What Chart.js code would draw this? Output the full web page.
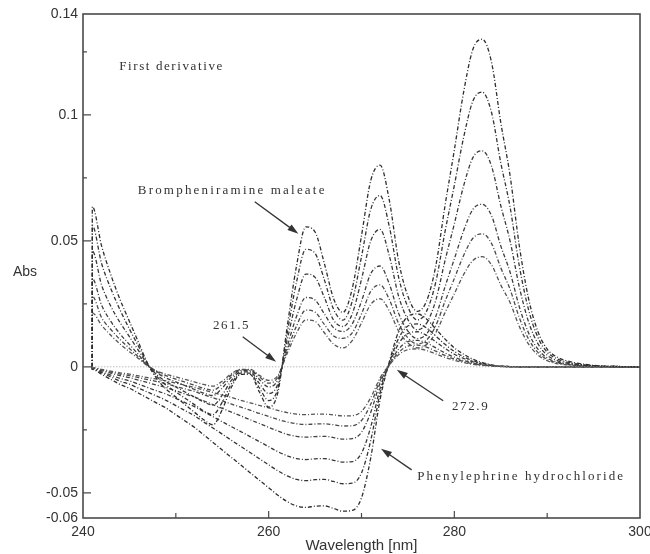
<!DOCTYPE html>
<html>
<head>
<meta charset="utf-8">
<script src="https://cdn.jsdelivr.net/npm/chart.js@4.4.1/dist/chart.umd.min.js"></script>
<style>
  html, body { margin: 0; padding: 0; background: #fff; }
  #grafico { display: block; }
</style>
</head>
<body>
<canvas id="grafico" width="650" height="554"></canvas>
<script>
// comprimentos de onda (nm) - o 241 repetido faz o salto vertical do inicio da varredura
const wavelengths = [
  241, 241, 242, 243, 244, 245, 246, 247, 248, 249,
  250, 251, 252, 253, 254, 255, 256, 257, 258, 259,
  260, 261, 262, 263, 264, 265, 266, 267, 268, 269,
  270, 271, 272, 273, 274, 275, 276, 277, 278, 279,
  280, 281, 282, 283, 284, 285, 286, 287, 288, 289,
  290, 291, 292, 294, 296, 298, 300
];

// Brompheniramine maleate - primeira derivada, da maior para a menor concentracao
const brm1 = [
  0, 0.0636, 0.048, 0.0365, 0.0266, 0.018, 0.0095, 0.001, -0.005, -0.009,
  -0.012, -0.015, -0.018, -0.021, -0.023, -0.017, -0.008, -0.003, -0.003, -0.010,
  -0.016, -0.010, 0.016, 0.040, 0.0555, 0.0535, 0.041, 0.027, 0.0216, 0.031,
  0.052, 0.074, 0.080, 0.066, 0.042, 0.028, 0.022, 0.026, 0.040, 0.064,
  0.086, 0.109, 0.126, 0.130, 0.121, 0.097, 0.076, 0.048, 0.027, 0.014,
  0.007, 0.004, 0.0025, 0.001, 0.0003, 0.0001, 0
];
const brm2 = [
  0, 0.056, 0.041, 0.031, 0.0225, 0.015, 0.008, 0.001, -0.004, -0.0075,
  -0.010, -0.0125, -0.015, -0.0175, -0.019, -0.014, -0.0067, -0.0025, -0.0025, -0.0084,
  -0.0134, -0.0084, 0.0134, 0.0336, 0.0466, 0.045, 0.0345, 0.0228, 0.0185, 0.026,
  0.0437, 0.0625, 0.068, 0.0556, 0.0355, 0.0237, 0.0186, 0.022, 0.0336, 0.0537,
  0.072, 0.091, 0.1055, 0.109, 0.101, 0.081, 0.0635, 0.040, 0.0226, 0.0117,
  0.0058, 0.0033, 0.002, 0.0008, 0.0002, 0.0001, 0
];
const brm3 = [
  0, 0.046, 0.0325, 0.024, 0.0175, 0.012, 0.0063, 0.0007, -0.0033, -0.006,
  -0.008, -0.010, -0.012, -0.0139, -0.0152, -0.0112, -0.0053, -0.002, -0.002, -0.0066,
  -0.0106, -0.0066, 0.0106, 0.0265, 0.0368, 0.0355, 0.0275, 0.0185, 0.016, 0.021,
  0.0347, 0.050, 0.0545, 0.044, 0.028, 0.0187, 0.0147, 0.0172, 0.0264, 0.0422,
  0.0567, 0.0718, 0.083, 0.0857, 0.0797, 0.064, 0.050, 0.0317, 0.0178, 0.0092,
  0.0046, 0.0026, 0.0016, 0.0006, 0.0002, 0.0001, 0
];
const brm4 = [
  0, 0.035, 0.0245, 0.018, 0.013, 0.0089, 0.0047, 0.0005, -0.0025, -0.0045,
  -0.006, -0.0075, -0.009, -0.0104, -0.0114, -0.0084, -0.004, -0.0015, -0.0015, -0.005,
  -0.008, -0.005, 0.008, 0.020, 0.0275, 0.0265, 0.021, 0.0155, 0.014, 0.017,
  0.026, 0.037, 0.040, 0.0328, 0.0212, 0.0142, 0.0112, 0.013, 0.020, 0.0318,
  0.0428, 0.054, 0.0625, 0.0645, 0.060, 0.048, 0.0376, 0.0238, 0.0134, 0.007,
  0.0035, 0.002, 0.0012, 0.0005, 0.0002, 0.0001, 0
];
const brm5 = [
  0, 0.028, 0.0195, 0.0148, 0.0108, 0.0073, 0.0038, 0.0004, -0.002, -0.0036,
  -0.0049, -0.0061, -0.0073, -0.0085, -0.0093, -0.0069, -0.0032, -0.0012, -0.0012, -0.004,
  -0.0065, -0.004, 0.0065, 0.0162, 0.0225, 0.0217, 0.0168, 0.0122, 0.0113, 0.0135,
  0.021, 0.030, 0.0325, 0.0267, 0.0172, 0.0115, 0.0091, 0.0106, 0.0163, 0.026,
  0.035, 0.0442, 0.051, 0.0528, 0.049, 0.0393, 0.0308, 0.0195, 0.011, 0.0057,
  0.0029, 0.0016, 0.001, 0.0004, 0.0001, 0, 0
];
const brm6 = [
  0, 0.0214, 0.0165, 0.0125, 0.009, 0.006, 0.0032, 0.0003, -0.0017, -0.003,
  -0.004, -0.005, -0.006, -0.007, -0.0077, -0.0057, -0.0027, -0.001, -0.001, -0.0034,
  -0.0054, -0.0034, 0.0054, 0.0134, 0.0186, 0.018, 0.0135, 0.009, 0.0075, 0.0104,
  0.0174, 0.0248, 0.027, 0.0222, 0.0142, 0.0095, 0.0075, 0.0088, 0.0135, 0.0215,
  0.029, 0.0366, 0.0422, 0.0437, 0.0405, 0.0325, 0.0255, 0.016, 0.009, 0.0047,
  0.0024, 0.0013, 0.0008, 0.0003, 0.0001, 0, 0
];

// Phenylephrine hydrochloride - primeira derivada, da menor para a maior concentracao
const phe1 = [
  0, -0.0003, -0.001, -0.0017, -0.0024, -0.0029, -0.0036, -0.0043, -0.0049, -0.0056,
  -0.0065, -0.0073, -0.0082, -0.0092, -0.0102, -0.0112, -0.0122, -0.0133, -0.0143, -0.0153,
  -0.0163, -0.0173, -0.0182, -0.0188, -0.019, -0.0188, -0.0188, -0.0191, -0.0195, -0.0194,
  -0.0177, -0.0122, -0.0044, 0.0007, 0.0048, 0.0068, 0.0071, 0.0065, 0.0051, 0.0037,
  0.0026, 0.0017, 0.001, 0.0006, 0.0003, 0.0001, 0, 0, 0, 0,
  0, 0, 0, 0, 0, 0, 0
];
const phe2 = [
  0, -0.0004, -0.0012, -0.0021, -0.0029, -0.0035, -0.0043, -0.0051, -0.0059, -0.0068,
  -0.0078, -0.0088, -0.0098, -0.0111, -0.0123, -0.0135, -0.0148, -0.016, -0.0172, -0.0185,
  -0.0197, -0.0209, -0.0219, -0.0226, -0.0229, -0.0227, -0.0226, -0.023, -0.0235, -0.0234,
  -0.0213, -0.0148, -0.0053, 0.0008, 0.0057, 0.0082, 0.0086, 0.0078, 0.0062, 0.0045,
  0.0031, 0.0021, 0.0012, 0.0007, 0.0003, 0.0001, 0, 0, 0, 0,
  0, 0, 0, 0, 0, 0, 0
];
const phe3 = [
  0, -0.0005, -0.0015, -0.0025, -0.0035, -0.0043, -0.0053, -0.0063, -0.0073, -0.0083,
  -0.0095, -0.0108, -0.012, -0.0135, -0.015, -0.0165, -0.018, -0.0195, -0.021, -0.0225,
  -0.024, -0.0255, -0.0268, -0.0276, -0.0279, -0.0277, -0.0276, -0.0281, -0.0287, -0.0285,
  -0.026, -0.018, -0.0065, 0.001, 0.007, 0.010, 0.0105, 0.0095, 0.0075, 0.0055,
  0.0038, 0.0025, 0.0015, 0.0008, 0.0004, 0.0002, 0.0001, 0, 0, 0,
  0, 0, 0, 0, 0, 0, 0
];
const phe4 = [
  0, -0.0007, -0.002, -0.0033, -0.0046, -0.0056, -0.0069, -0.0083, -0.0096, -0.0109,
  -0.0125, -0.0142, -0.0158, -0.0178, -0.0198, -0.0218, -0.0238, -0.0257, -0.0277, -0.0297,
  -0.0317, -0.0337, -0.0353, -0.0364, -0.0368, -0.0365, -0.0364, -0.0371, -0.0378, -0.0376,
  -0.0343, -0.0238, -0.0086, 0.0013, 0.0092, 0.0132, 0.0139, 0.0125, 0.0099, 0.0073,
  0.005, 0.0033, 0.002, 0.0011, 0.0005, 0.0002, 0.0001, 0, 0, 0,
  0, 0, 0, 0, 0, 0, 0
];
const phe5 = [
  0, -0.0008, -0.0024, -0.004, -0.0057, -0.0069, -0.0085, -0.0101, -0.0117, -0.0134,
  -0.0154, -0.0174, -0.0194, -0.0219, -0.0243, -0.0267, -0.0292, -0.0316, -0.034, -0.0365,
  -0.0389, -0.0413, -0.0433, -0.0447, -0.0452, -0.0448, -0.0447, -0.0455, -0.0464, -0.0462,
  -0.0421, -0.0292, -0.0105, 0.0016, 0.0113, 0.0162, 0.017, 0.0154, 0.0122, 0.0089,
  0.0061, 0.004, 0.0024, 0.0014, 0.0006, 0.0002, 0.0001, 0, 0, 0,
  0, 0, 0, 0, 0, 0, 0
];
const phe6 = [
  0, -0.001, -0.003, -0.005, -0.007, -0.0085, -0.0105, -0.0125, -0.0145, -0.0165,
  -0.019, -0.0215, -0.024, -0.027, -0.030, -0.033, -0.036, -0.039, -0.042, -0.045,
  -0.048, -0.051, -0.0535, -0.0552, -0.0558, -0.0553, -0.0552, -0.0562, -0.0573, -0.057,
  -0.052, -0.036, -0.013, 0.002, 0.014, 0.020, 0.021, 0.019, 0.015, 0.011,
  0.0075, 0.005, 0.003, 0.0017, 0.0008, 0.0003, 0.0001, 0, 0, 0,
  0, 0, 0, 0, 0, 0, 0
];

// eixos
const xTicks = [240, 260, 280, 300];
const xMinorTicks = [250, 270, 290];
const yTicks = [-0.06, -0.05, 0, 0.05, 0.1, 0.14];
const yTickLabels = ['-0.06', '-0.05', '0', '0.05', '0.1', '0.14'];
const yMajorMarks = [-0.05, 0, 0.05, 0.1];
const yMinorMarks = [-0.025, 0.025, 0.075, 0.125];

// textos e setas, posicionados em unidades do grafico (nm, Abs)
const notas = [
  { texto: 'First derivative', x: 243.9, y: 0.119, espaco: 1.6 },
  { texto: 'Brompheniramine maleate', x: 245.9, y: 0.0698, espaco: 2.2 },
  { texto: '261.5', x: 254.0, y: 0.0163, espaco: 1.6 },
  { texto: '272.9', x: 279.75, y: -0.0159, espaco: 1.6 },
  { texto: 'Phenylephrine hydrochloride', x: 276.0, y: -0.0437, espaco: 2.1 }
];
const setas = [
  { de: [258.5, 0.0655], para: [263.2, 0.0528] },
  { de: [257.2, 0.0119], para: [260.8, 0.002] },
  { de: [278.8, -0.0135], para: [273.8, -0.0012] },
  { de: [275.4, -0.0409], para: [272.1, -0.0325] }
];

function serie(valores, cor) {
  return {
    data: wavelengths.map((w, i) => ({ x: w, y: valores[i] })),
    borderColor: cor,
    borderWidth: 1.3,
    borderDash: [4, 2, 1, 2],
    pointRadius: 0,
    fill: false,
    cubicInterpolationMode: 'monotone'
  };
}

const datasets = [
  {
    data: [{ x: 241, y: 0 }, { x: 300, y: 0 }],
    borderColor: '#9a9a9a',
    borderWidth: 1,
    borderDash: [1, 2],
    pointRadius: 0
  },
  serie(brm1, '#2e2e2e'), serie(brm2, '#333'), serie(brm3, '#383838'),
  serie(brm4, '#3e3e3e'), serie(brm5, '#4a4a4a'), serie(brm6, '#555'),
  serie(phe1, '#555'), serie(phe2, '#4a4a4a'), serie(phe3, '#404040'),
  serie(phe4, '#383838'), serie(phe5, '#333'), serie(phe6, '#2e2e2e')
];

function desenharSeta(ctx, x1, y1, x2, y2) {
  const ang = Math.atan2(y2 - y1, x2 - x1);
  ctx.beginPath();
  ctx.moveTo(x1, y1);
  ctx.lineTo(x2 - 7 * Math.cos(ang), y2 - 7 * Math.sin(ang));
  ctx.stroke();
  ctx.beginPath();
  ctx.moveTo(x2, y2);
  ctx.lineTo(x2 - 11 * Math.cos(ang) + 3.5 * Math.sin(ang), y2 - 11 * Math.sin(ang) - 3.5 * Math.cos(ang));
  ctx.lineTo(x2 - 11 * Math.cos(ang) - 3.5 * Math.sin(ang), y2 - 11 * Math.sin(ang) + 3.5 * Math.cos(ang));
  ctx.closePath();
  ctx.fill();
}

const moldura = {
  id: 'moldura',
  afterDatasetsDraw(chart) {
    const { ctx, chartArea: a, scales: { x, y } } = chart;
    ctx.save();

    // caixa do grafico
    ctx.strokeStyle = '#4a4a4a';
    ctx.lineWidth = 1.6;
    ctx.strokeRect(a.left, a.top, a.right - a.left, a.bottom - a.top);

    // marcas dos eixos, voltadas para dentro
    ctx.lineWidth = 1.2;
    ctx.beginPath();
    yMajorMarks.forEach(v => {
      const py = y.getPixelForValue(v);
      ctx.moveTo(a.left, py); ctx.lineTo(a.left + 8, py);
    });
    yMinorMarks.forEach(v => {
      const py = y.getPixelForValue(v);
      ctx.moveTo(a.left, py); ctx.lineTo(a.left + 4, py);
    });
    xTicks.slice(1, -1).forEach(v => {
      const px = x.getPixelForValue(v);
      ctx.moveTo(px, a.bottom); ctx.lineTo(px, a.bottom - 7);
    });
    xMinorTicks.forEach(v => {
      const px = x.getPixelForValue(v);
      ctx.moveTo(px, a.bottom); ctx.lineTo(px, a.bottom - 5);
    });
    ctx.stroke();

    // titulos dos eixos
    ctx.fillStyle = '#333';
    ctx.font = '14px "Liberation Sans", Arial, sans-serif';
    ctx.textBaseline = 'middle';
    ctx.textAlign = 'left';
    ctx.fillText('Abs', 13, 272);
    ctx.font = '15px "Liberation Sans", Arial, sans-serif';
    ctx.textAlign = 'center';
    ctx.fillText('Wavelength [nm]', (a.left + a.right) / 2, 546);

    // anotacoes
    ctx.font = '13px "Liberation Serif", "Times New Roman", serif';
    ctx.textAlign = 'left';
    notas.forEach(n => {
      ctx.letterSpacing = n.espaco + 'px';
      ctx.fillText(n.texto, x.getPixelForValue(n.x), y.getPixelForValue(n.y));
    });
    ctx.letterSpacing = '0px';

    ctx.strokeStyle = '#333';
    ctx.fillStyle = '#333';
    ctx.lineWidth = 1.3;
    setas.forEach(s => {
      desenharSeta(ctx,
        x.getPixelForValue(s.de[0]), y.getPixelForValue(s.de[1]),
        x.getPixelForValue(s.para[0]), y.getPixelForValue(s.para[1]));
    });
    ctx.restore();
  }
};

const fonteEixo = { family: '"Liberation Sans", Arial, sans-serif', size: 14 };

new Chart(document.getElementById('grafico'), {
  type: 'line',
  data: { datasets },
  options: {
    responsive: false,
    animation: false,
    layout: { padding: { top: 14, right: 0, left: 0, bottom: 0 } },
    plugins: { legend: { display: false }, tooltip: { enabled: false } },
    scales: {
      x: {
        type: 'linear',
        min: 240,
        max: 300,
        afterBuildTicks: s => { s.ticks = xTicks.map(v => ({ value: v })); },
        afterFit: s => { s.height = 36; s.paddingLeft = 0; s.paddingRight = 10; },
        grid: { display: false, drawTicks: false },
        border: { display: false },
        ticks: { padding: 6, color: '#333', font: fonteEixo, maxRotation: 0, autoSkip: false, callback: v => String(v) }
      },
      y: {
        min: -0.06,
        max: 0.14,
        afterBuildTicks: s => { s.ticks = yTicks.map(v => ({ value: v })); },
        afterFit: s => { s.width = 83; s.paddingTop = 0; s.paddingBottom = 0; },
        grid: { display: false, drawTicks: false },
        border: { display: false },
        ticks: { padding: 5, color: '#333', font: fonteEixo, autoSkip: false, callback: (v, i) => yTickLabels[i] }
      }
    }
  },
  plugins: [moldura]
});
</script>
</body>
</html>
